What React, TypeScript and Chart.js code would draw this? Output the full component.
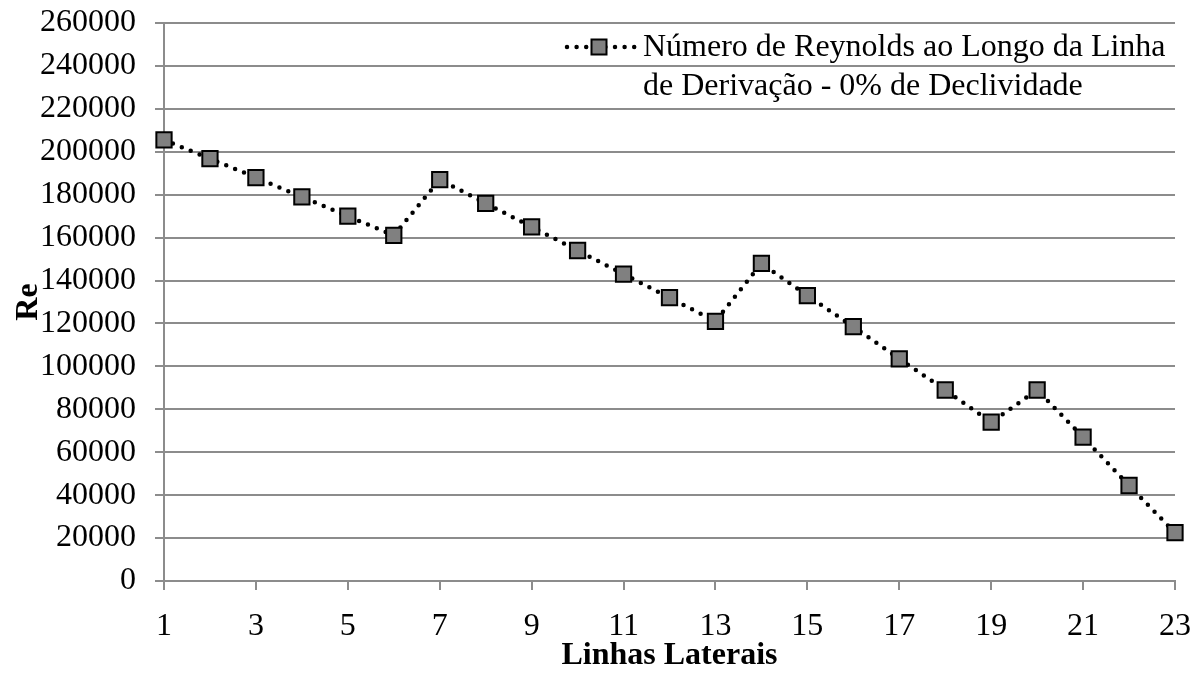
import React, { useEffect, useRef } from "react";
import { Chart, registerables } from "chart.js";

Chart.register(...registerables);

const linhas: number[] = [1, 2, 3, 4, 5, 6, 7, 8, 9, 10, 11, 12, 13, 14, 15, 16, 17, 18, 19, 20, 21, 22, 23];
const reynolds: number[] = [
  205500, 196800, 188000, 179000, 170000, 161000, 187000, 176000, 165000, 154000, 143000, 132000,
  121000, 148000, 133000, 118500, 103500, 89000, 74000, 89000, 67000, 44500, 22500,
];
const legendLines: string[] = ["Número de Reynolds ao Longo da Linha", "de Derivação - 0% de Declividade"];
const xTitle = "Linhas Laterais";
const yTitle = "Re";

const FONT = "'Liberation Serif', 'Times New Roman', serif";

const legendPlugin = {
  id: "customLegend",
  afterDatasetsDraw(chart: any) {
    const ctx = chart.ctx;
    const area = chart.chartArea;
    const textX = area.right - 532;
    const y1 = area.top + 24;
    const y2 = area.top + 63;
    ctx.save();
    ctx.strokeStyle = "#000";
    ctx.lineWidth = 4.5;
    ctx.lineCap = "round";
    ctx.setLineDash([0, 9.6]);
    ctx.beginPath();
    ctx.moveTo(textX - 76, y1);
    ctx.lineTo(textX - 8, y1);
    ctx.stroke();
    ctx.setLineDash([]);
    const s = 7.5;
    const mx = textX - 44;
    ctx.fillStyle = "#808080";
    ctx.strokeStyle = "#000";
    ctx.lineWidth = 2;
    ctx.beginPath();
    ctx.rect(mx - s, y1 - s, 2 * s, 2 * s);
    ctx.fill();
    ctx.stroke();
    ctx.fillStyle = "#000";
    ctx.font = `32px ${FONT}`;
    ctx.textAlign = "left";
    ctx.textBaseline = "middle";
    ctx.fillText(legendLines[0], textX, y1 + 1);
    ctx.fillText(legendLines[1], textX, y2 + 1);
    ctx.restore();
  },
};

export default function App() {
  const canvasRef = useRef<HTMLCanvasElement | null>(null);

  useEffect(() => {
    document.body.style.margin = "0";
    const canvas = canvasRef.current;
    if (!canvas) return;
    const chart = new Chart(canvas, {
      type: "line",
      data: {
        datasets: [
          {
            label: legendLines.join(" "),
            data: linhas.map((x, i) => ({ x, y: reynolds[i] })),
            borderColor: "#000",
            borderWidth: 4.5,
            borderDash: [0, 9.6],
            borderCapStyle: "round",
            tension: 0,
            fill: false,
            clip: false,
            pointStyle: "rect",
            pointRadius: 10.8,
            pointHoverRadius: 10.8,
            pointBackgroundColor: "#808080",
            pointBorderColor: "#000",
            pointBorderWidth: 2,
          },
        ],
      },
      options: {
        animation: false,
        responsive: false,
        maintainAspectRatio: false,
        layout: { padding: { top: 23, right: 17, left: 0, bottom: 0 } },
        plugins: {
          legend: { display: false },
          tooltip: { enabled: false },
        },
        scales: {
          x: {
            type: "linear",
            min: 1,
            max: 23,
            ticks: {
              stepSize: 2,
              color: "#000",
              font: { family: FONT, size: 32 },
              padding: 17,
              maxRotation: 0,
              callback: (v: any) => String(v),
            },
            grid: {
              drawOnChartArea: false,
              drawTicks: true,
              tickLength: 9,
              color: "#8c8c8c",
              lineWidth: 2,
            },
            border: { color: "#8c8c8c", width: 2 },
            title: {
              display: true,
              text: xTitle,
              color: "#000",
              font: { family: FONT, size: 32, weight: "bold" },
              padding: { top: 0, bottom: 3 },
            },
            afterFit: (scale: any) => {
              scale.height = 97;
              scale.paddingLeft = 0;
              scale.paddingRight = 0;
            },
          },
          y: {
            min: 0,
            max: 260000,
            ticks: {
              stepSize: 20000,
              color: "#000",
              font: { family: FONT, size: 32 },
              padding: 19,
              callback: (v: any) => String(v),
            },
            grid: {
              drawTicks: true,
              tickLength: 9,
              color: "#8c8c8c",
              lineWidth: 2,
            },
            border: { color: "#8c8c8c", width: 2 },
            title: {
              display: true,
              text: yTitle,
              color: "#000",
              font: { family: FONT, size: 32, weight: "bold" },
              padding: { top: 10, bottom: 0 },
            },
            afterFit: (scale: any) => {
              scale.width = 164;
              scale.paddingTop = 0;
              scale.paddingBottom = 0;
            },
          },
        },
      },
      plugins: [legendPlugin],
    } as any);
    return () => chart.destroy();
  }, []);

  return (
    <div style={{ width: 1192, height: 678 }}>
      <canvas ref={canvasRef} width={1192} height={678} style={{ display: "block" }} />
    </div>
  );
}
